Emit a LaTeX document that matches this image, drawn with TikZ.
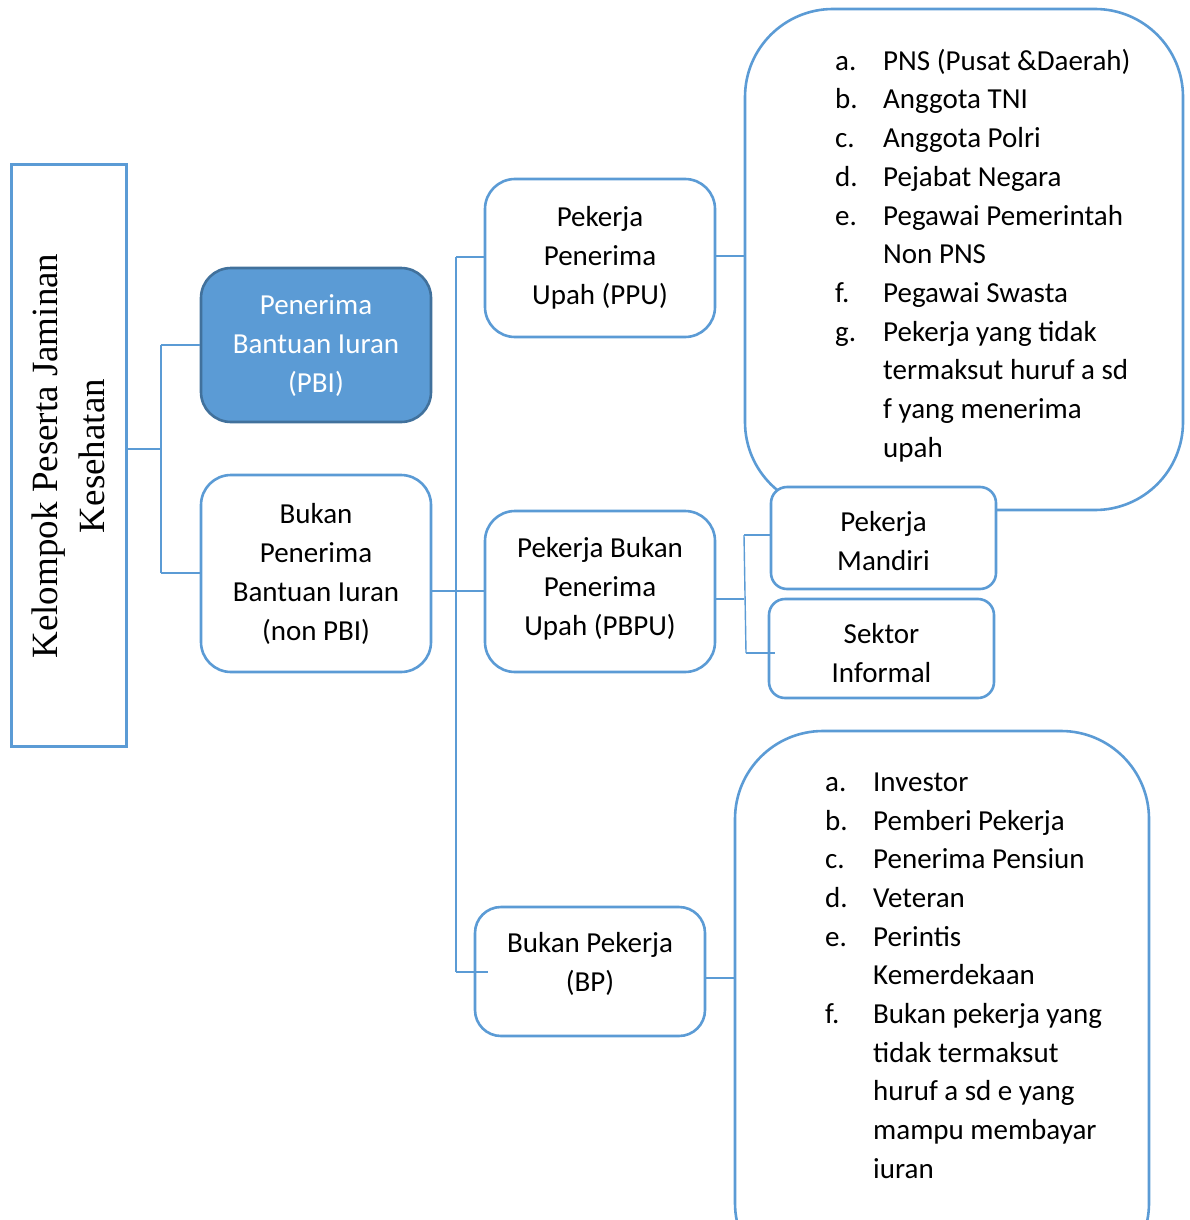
\documentclass[tikz,border=0pt]{standalone}
\usepackage{fontspec}
\setmainfont{Carlito}
\newfontfamily\serifnm{Liberation Serif}
\usepackage{array}
\definecolor{accblue}{HTML}{5B9BD5}
\definecolor{darkblue}{HTML}{41719C}
\begin{document}
\begin{tikzpicture}[x=1pt,y=-1pt,
  boxstyle/.style={draw=accblue, line width=2.6pt, fill=white, rectangle, inner sep=0pt, align=center,
     font=\fontsize{29}{39}\selectfont},
  boxtext/.style={inner sep=0pt, align=center, font=\fontsize{29}{39}\selectfont},
  conn/.style={draw=accblue, line width=1.4pt},
  listtext/.style={anchor=north west, inner sep=0pt, font=\fontsize{29}{38.7}\selectfont}
]
\useasboundingbox (0,0) rectangle (1189,1220);
\clip (0,0) rectangle (1189,1220);

% main rectangle
\node[draw=accblue, line width=3pt, rectangle, minimum width=115pt, minimum height=582pt, inner sep=0pt] (main) at (68.5,455) {};
\node[rotate=90, align=center, font=\serifnm\fontsize{37}{47}\selectfont] (maintext) at (68,456) {Kelompok Peserta Jaminan\\Kesehatan};

% level 1
\node[boxstyle, fill=accblue, draw=darkblue, rounded corners=30pt, minimum width=230pt, minimum height=154pt] (pbi) at (316,345) {};
\node[boxtext, text=white] (pbitext) at ([yshift=-1pt]pbi.center) {Penerima\\Bantuan Iuran\\(PBI)};
\node[boxstyle, rounded corners=30pt, minimum width=230pt, minimum height=197pt] (nonpbi) at (316,573.5) {Bukan\\Penerima\\Bantuan Iuran\\(non PBI)};

% level 2
\node[boxstyle, rounded corners=30pt, minimum width=230pt, minimum height=158pt] (ppu) at (600,258) {Pekerja\\Penerima\\Upah (PPU)};
\node[boxstyle, rounded corners=30pt, minimum width=230pt, minimum height=161pt] (pbpu) at (600,591.5) {};
\node[boxtext] (pbputext) at ([yshift=3pt]pbpu.center) {Pekerja Bukan\\Penerima\\Upah (PBPU)};
\node[boxstyle, rounded corners=26pt, minimum width=230pt, minimum height=129pt] (bp) at (590,971.5) {};
\node[boxtext] (bptext) at ([yshift=8pt]bp.center) {Bukan Pekerja\\(BP)};

% level 3
\node[boxstyle, rounded corners=88pt, minimum width=438pt, minimum height=501pt] (list1) at (964,259.5) {};
\node[boxstyle, rounded corners=16pt, minimum width=225pt, minimum height=102pt] (mandiri) at (883.5,538) {};
\node[boxtext] (manditext) at ([yshift=-3pt]mandiri.center) {Pekerja\\Mandiri};
\node[boxstyle, rounded corners=16pt, minimum width=225pt, minimum height=99pt] (sektor) at (881.5,648.5) {};
\node[boxtext] (sektortext) at ([yshift=-5pt]sektor.center) {Sektor\\Informal};
\node[boxstyle, rounded corners=88pt, minimum width=414pt, minimum height=560pt] (list2) at (942,1011) {};

% list texts
\node[listtext] (list1text) at (835,43) {\begin{tabular}{@{}p{48pt}@{}l@{}}
a. & PNS (Pusat \&Daerah)\\
b. & Anggota TNI\\
c. & Anggota Polri\\
d. & Pejabat Negara\\
e. & Pegawai Pemerintah\\
   & Non PNS\\
f. & Pegawai Swasta\\
g. & Pekerja yang tidak\\
   & termaksut huruf a sd\\
   & f yang menerima\\
   & upah
\end{tabular}};
\node[listtext] (list2text) at (825,764) {\begin{tabular}{@{}p{48pt}@{}l@{}}
a. & Investor\\
b. & Pemberi Pekerja\\
c. & Penerima Pensiun\\
d. & Veteran\\
e. & Perintis\\
   & Kemerdekaan\\
f. & Bukan pekerja yang\\
   & tidak termaksut\\
   & huruf a sd e yang\\
   & mampu membayar\\
   & iuran
\end{tabular}};

% connectors
\coordinate (j1) at (161,449);
\draw[conn] (main.east |- j1) -- (j1);
\draw[conn] (161,345) -- (161,573);
\draw[conn] (161,345) -- (pbi.west |- 0,345);
\draw[conn] (161,573) -- (nonpbi.west |- 0,573);

\coordinate (j2) at (456,591);
\draw[conn] (nonpbi.east |- j2) -- (pbpu.west |- j2);
\draw[conn] (456,257) -- (456,972);
\draw[conn] (456,257) -- (ppu.west |- 0,257);
\coordinate (bpend) at (488,972);
\draw[conn] (456,972) -- (bpend);

\draw[conn] (ppu.east |- 0,256) -- (list1.west |- 0,256);

\coordinate (j3) at (744,599);
\draw[conn] (pbpu.east |- j3) -- (j3);
\draw[conn] (744,535) -- (746,653);
\draw[conn] (744,535) -- (mandiri.west |- 0,535);
\coordinate (sekend) at (775,653);
\draw[conn] (746,653) -- (sekend);

\draw[conn] (bp.east |- 0,978) -- (list2.west |- 0,978);
\end{tikzpicture}
\end{document}
